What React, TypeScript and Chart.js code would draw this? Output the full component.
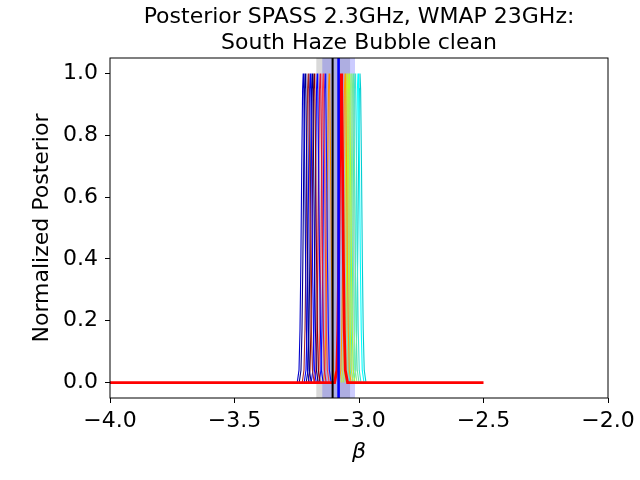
import React, { useEffect, useRef } from 'react'
import { Chart, registerables } from 'chart.js'

Chart.register(...registerables)

const titleLines = ['Posterior SPASS 2.3GHz, WMAP 23GHz:', 'South Haze Bubble clean']
const xTicks = [-4, -3.5, -3, -2.5, -2]
const yTicks = [0, 0.2, 0.4, 0.6, 0.8, 1]

// peak positions of the single posteriors, left to right
const peakCenters = [-3.224, -3.216, -3.204, -3.196, -3.188, -3.18, -3.168, -3.156, -3.144, -3.136, -3.12, -3.056, -3.048, -3.04, -3.032, -3.024, -3.016, -3.004, -2.996]
const peakColors = ['#0000cd', '#00008b', '#a52a2a', '#0000ff', '#000080', '#8b0000', '#0000ff', '#dc143c', '#ff4040', '#1010ff', '#ff8c00', '#ffa500', '#c8f030', '#adff2f', '#90ee90', '#66e8a0', '#40e0d0', '#00ffff', '#00ced1']

// shape of one normalized peak: offset from its centre, height
const peakOffsets = [-0.024, -0.017, -0.013, -0.0095, -0.006, -0.0025, 0, 0.0025, 0.006, 0.0095, 0.013, 0.017, 0.024]
const peakHeights = [0, 0.04, 0.17, 0.39, 0.7, 0.95, 1, 0.95, 0.7, 0.39, 0.17, 0.04, 0]

// combined posterior on the -4 .. -2.5 grid
const combinedX = [-4, -3.098, -3.089, -3.085, -3.0815, -3.078, -3.0745, -3.072, -3.0695, -3.066, -3.0625, -3.059, -3.055, -3.046, -2.5]
const combinedY = [0, 0, 0.04, 0.17, 0.39, 0.7, 0.95, 1, 0.95, 0.7, 0.39, 0.17, 0.04, 0, 0]

const meanBeta = -3.106
const meanBand = [-3.172, -3.035]
const fitBeta = -3.082
const fitBand = [-3.148, -3.016]

const yMin = -0.05
const yMax = 1.05

const fmt = (v: number) => (v < 0 ? '\u2212' : '') + Math.abs(v).toFixed(1)

const framePlugin = {
  id: 'frame',
  afterDraw(chart: Chart) {
    const { ctx, chartArea: a } = chart
    ctx.save()
    ctx.strokeStyle = '#000'
    ctx.lineWidth = 1
    ctx.strokeRect(a.left, a.top, a.right - a.left, a.bottom - a.top)
    ctx.restore()
  },
}

export default function App() {
  const canvasRef = useRef<HTMLCanvasElement>(null)

  useEffect(() => {
    if (!canvasRef.current) return
    Chart.defaults.font.family = 'DejaVu Sans'
    Chart.defaults.color = '#000'

    const vline = (x: number, color: string, width: number) => ({
      data: [{ x, y: yMin }, { x, y: yMax }],
      borderColor: color,
      borderWidth: width,
      pointRadius: 0,
      order: 0,
    })
    const band = (r: number[], color: string) => ({
      data: [{ x: r[0], y: yMax }, { x: r[1], y: yMax }],
      borderWidth: 0,
      borderColor: 'rgba(0,0,0,0)',
      backgroundColor: color,
      fill: { value: yMin },
      pointRadius: 0,
      order: 3,
    })
    const peaks = peakCenters.map((c, i) => ({
      data: peakOffsets.map((d, j) => ({ x: c + d, y: peakHeights[j] })),
      borderColor: peakColors[i],
      borderWidth: 1.1,
      pointRadius: 0,
      order: 2,
    }))

    const chart = new Chart(canvasRef.current, {
      type: 'line',
      data: {
        datasets: [
          vline(meanBeta, '#000', 2),
          vline(fitBeta, '#0000ff', 2.6),
          {
            data: combinedX.map((x, i) => ({ x, y: combinedY[i] })),
            borderColor: '#ff0000',
            borderWidth: 2.8,
            pointRadius: 0,
            order: 1,
          },
          ...peaks,
          band(fitBand, 'rgba(0,0,255,0.2)'),
          band(meanBand, 'rgba(128,128,128,0.3)'),
        ] as any,
      },
      options: {
        responsive: false,
        animation: false,
        layout: { padding: { left: 0, right: 32, top: 0, bottom: 0 } },
        elements: { line: { tension: 0 } },
        plugins: {
          legend: { display: false },
          tooltip: { enabled: false },
          title: {
            display: true,
            text: titleLines,
            fullSize: false,
            color: '#000',
            font: { size: 22, weight: 'normal', family: 'DejaVu Sans' },
            padding: { top: 4, bottom: 1.2 },
          },
        },
        scales: {
          x: {
            type: 'linear',
            min: -4,
            max: -2,
            afterBuildTicks: (s: any) => { s.ticks = xTicks.map(v => ({ value: v })) },
            afterFit: (s: any) => { s.height = 82 },
            ticks: { callback: (v: any) => fmt(Number(v)), font: { size: 22 }, padding: 5, maxRotation: 0 },
            grid: { display: true, drawOnChartArea: false, drawTicks: true, tickLength: 5, color: '#000' },
            border: { display: false },
            title: { display: true, text: 'β', font: { size: 22, style: 'italic' }, padding: { top: 0, bottom: 15 } },
          },
          y: {
            type: 'linear',
            min: yMin,
            max: yMax,
            afterBuildTicks: (s: any) => { s.ticks = yTicks.map(v => ({ value: v })) },
            afterFit: (s: any) => { s.width = 110 },
            ticks: { callback: (v: any) => Number(v).toFixed(1), font: { size: 22 }, padding: 7 },
            grid: { display: true, drawOnChartArea: false, drawTicks: true, tickLength: 5, color: '#000' },
            border: { display: false },
            title: { display: true, text: 'Normalized Posterior', font: { size: 22 }, padding: { top: 29, bottom: 0 } },
          },
        },
      },
      plugins: [framePlugin],
    } as any)

    return () => chart.destroy()
  }, [])

  return (
    <div style={{ position: 'absolute', left: 0, top: 0, width: 640, height: 480, background: '#fff' }}>
      <canvas ref={canvasRef} width={640} height={480} style={{ width: 640, height: 480 }} />
    </div>
  )
}
